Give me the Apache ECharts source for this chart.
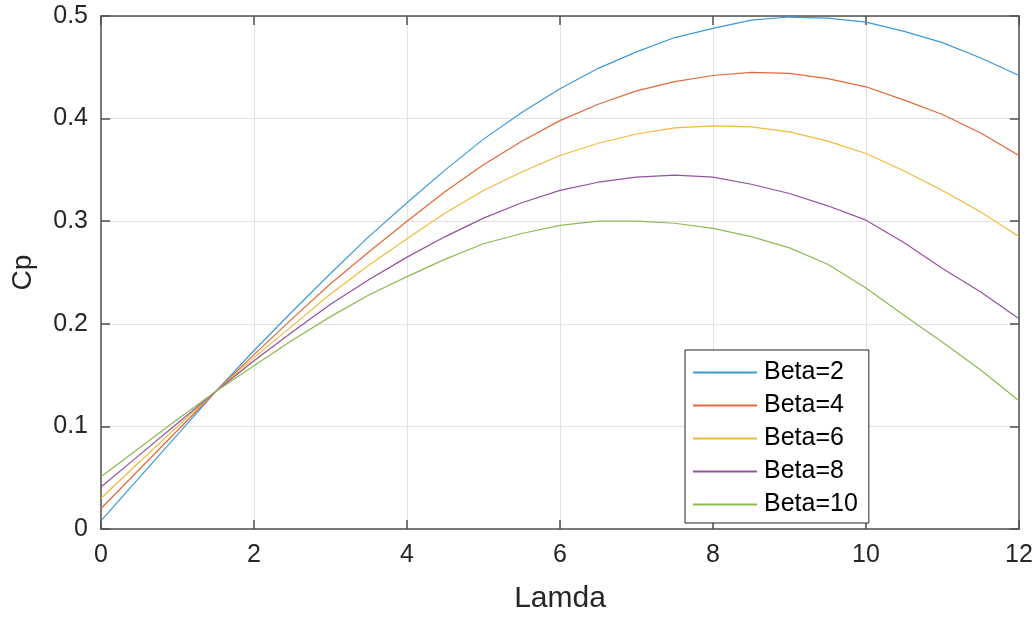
<!DOCTYPE html>
<html>
<head>
<meta charset="utf-8">
<script src="https://cdn.jsdelivr.net/npm/echarts@6/dist/echarts.min.js"></script>
<style>
  html, body { margin: 0; padding: 0; background: #ffffff; }
  #chart { width: 1036px; height: 619px; }
</style>
</head>
<body>
<div id="chart"></div>
<script>
// Data
var lamda = [0, 0.5, 1, 1.5, 2, 2.5, 3, 3.5, 4, 4.5, 5, 5.5, 6, 6.5, 7, 7.5, 8, 8.5, 9, 9.5, 10, 10.5, 11, 11.5, 12];
var beta2  = [0.008, 0.050, 0.092, 0.134, 0.174, 0.212, 0.249, 0.285, 0.318, 0.350, 0.380, 0.406, 0.429, 0.449, 0.465, 0.479, 0.488, 0.496, 0.499, 0.498, 0.494, 0.485, 0.474, 0.459, 0.442];
var beta4  = [0.020, 0.058, 0.096, 0.134, 0.170, 0.205, 0.239, 0.270, 0.300, 0.329, 0.355, 0.378, 0.398, 0.414, 0.427, 0.436, 0.442, 0.445, 0.444, 0.439, 0.431, 0.418, 0.404, 0.386, 0.364];
var beta6  = [0.030, 0.065, 0.100, 0.134, 0.167, 0.198, 0.229, 0.257, 0.283, 0.308, 0.330, 0.348, 0.364, 0.376, 0.385, 0.391, 0.393, 0.392, 0.387, 0.378, 0.366, 0.349, 0.330, 0.309, 0.285];
var beta8  = [0.041, 0.072, 0.103, 0.134, 0.164, 0.192, 0.219, 0.243, 0.265, 0.285, 0.303, 0.318, 0.330, 0.338, 0.343, 0.345, 0.343, 0.336, 0.327, 0.315, 0.301, 0.279, 0.254, 0.231, 0.205];
var beta10 = [0.051, 0.079, 0.107, 0.134, 0.159, 0.184, 0.207, 0.228, 0.246, 0.263, 0.278, 0.288, 0.296, 0.300, 0.300, 0.298, 0.293, 0.285, 0.274, 0.258, 0.235, 0.208, 0.182, 0.155, 0.125];
var seriesNames = ['Beta=2', 'Beta=4', 'Beta=6', 'Beta=8', 'Beta=10'];
var xTicks = [0, 2, 4, 6, 8, 10, 12];
var yTicks = [0, 0.1, 0.2, 0.3, 0.4, 0.5];
var xLabel = 'Lamda';
var yLabel = 'Cp';

var colors = ['#3d9ad8', '#e06a3c', '#f0bb3c', '#9252a0', '#8cbb52'];
var allSeries = [beta2, beta4, beta6, beta8, beta10];

function pairs(ys) { return lamda.map(function (x, i) { return [x, ys[i]]; }); }

var axisColor = '#505050';
var font = 'Liberation Sans, Arial, Helvetica, sans-serif';

var chart = echarts.init(document.getElementById('chart'), null, { renderer: 'canvas' });

var xCommon = {
  type: 'value', min: xTicks[0], max: xTicks[xTicks.length - 1], interval: 2,
  axisLine: { show: true, onZero: false, lineStyle: { color: axisColor, width: 1.5 } },
  axisTick: { show: true, inside: true, length: 9, lineStyle: { color: axisColor, width: 1.5 } }
};
var yCommon = {
  type: 'value', min: yTicks[0], max: yTicks[yTicks.length - 1], interval: 0.1,
  axisLine: { show: true, onZero: false, lineStyle: { color: axisColor, width: 1.5 } },
  axisTick: { show: true, inside: true, length: 9, lineStyle: { color: axisColor, width: 1.5 } }
};

var option = {
  backgroundColor: '#ffffff',
  animation: false,
  grid: { left: 101, right: 17, top: 16, bottom: 87, containLabel: false },
  xAxis: [
    Object.assign({}, xCommon, {
      position: 'bottom',
      name: xLabel, nameLocation: 'middle', nameGap: 55,
      nameTextStyle: { fontFamily: font, fontSize: 30, color: '#262626' },
      axisLabel: { show: true, margin: 14, fontFamily: font, fontSize: 25, color: '#262626',
        formatter: function (v) { return String(v); } },
      splitLine: { show: true, lineStyle: { color: '#e3e3e3', width: 1 } }
    }),
    Object.assign({}, xCommon, {
      position: 'top',
      axisLabel: { show: false },
      splitLine: { show: false }
    })
  ],
  yAxis: [
    Object.assign({}, yCommon, {
      position: 'left',
      name: yLabel, nameLocation: 'middle', nameGap: 64, nameRotate: 90,
      nameTextStyle: { fontFamily: font, fontSize: 28, color: '#262626' },
      axisLabel: { show: true, margin: 13, fontFamily: font, fontSize: 25, color: '#262626',
        formatter: function (v) { return v === 0 ? '0' : v.toFixed(1); } },
      splitLine: { show: true, lineStyle: { color: '#e3e3e3', width: 1 } }
    }),
    Object.assign({}, yCommon, {
      position: 'right',
      axisLabel: { show: false },
      splitLine: { show: false }
    })
  ],
  legend: {
    orient: 'vertical',
    left: 685, top: 350,
    data: seriesNames,
    icon: 'rect',
    itemWidth: 64, itemHeight: 2,
    itemGap: 8,
    padding: [10, 11, 6, 8],
    backgroundColor: '#ffffff',
    borderColor: '#262626', borderWidth: 1, borderRadius: 0,
    textStyle: { fontFamily: font, fontSize: 25, color: '#000000', lineHeight: 25, padding: [0, 0, 0, 2] }
  },
  series: allSeries.map(function (ys, i) {
    return {
      name: seriesNames[i], type: 'line', xAxisIndex: 0, yAxisIndex: 0,
      data: pairs(ys), showSymbol: false, symbol: 'none', smooth: false,
      color: colors[i],
      lineStyle: { color: colors[i], width: 1.2 },
      emphasis: { disabled: true }
    };
  })
};
chart.setOption(option);
</script>
</body>
</html>
